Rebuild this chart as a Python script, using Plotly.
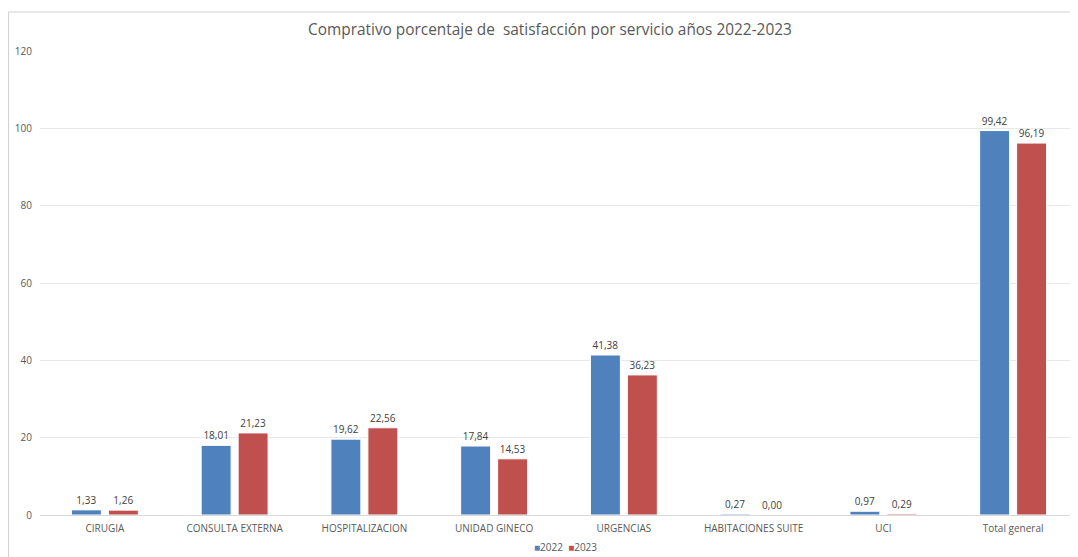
import plotly.graph_objects as go

categories = ["CIRUGIA", "CONSULTA EXTERNA", "HOSPITALIZACION", "UNIDAD GINECO",
              "URGENCIAS", "HABITACIONES SUITE", "UCI", "Total general"]
values_2022 = [1.33, 18.01, 19.62, 17.84, 41.38, 0.27, 0.97, 99.42]
values_2023 = [1.26, 21.23, 22.56, 14.53, 36.23, 0.00, 0.29, 96.19]
y_ticks = [0, 20, 40, 60, 80, 100, 120]
series_names = ["2022", "2023"]
series_colors = ["#4F81BD", "#C0504D"]

def fmt(v):
    return f"{v:.2f}".replace(".", ",")

fig = go.Figure()
for name, vals, col in zip(series_names, [values_2022, values_2023], series_colors):
    fig.add_trace(go.Bar(name=name, x=categories, y=vals,
                         marker=dict(color=col, line=dict(color="white", width=1)),
                         text=[fmt(v) for v in vals], textposition="outside",
                         textfont=dict(size=10, color="#404040"), cliponaxis=False))

legend_text = "&nbsp;&nbsp;".join(
    f"<span style='color:{c}'>■</span>{n}" for n, c in zip(series_names, series_colors))

fig.update_layout(
    width=1070, height=549,
    margin=dict(l=32, r=0, t=43, b=42, autoexpand=False),
    paper_bgcolor="white", plot_bgcolor="white",
    font=dict(family="Open Sans, Calibri, sans-serif", color="#595959"),
    title=dict(text="Comprativo porcentaje de  satisfacción por servicio años 2022-2023",
               x=0.5065, xanchor="center", y=0.96, yanchor="middle",
               font=dict(size=15.4, color="#595959")),
    barmode="group", bargap=0.43, bargroupgap=0.19,
    showlegend=False,
    annotations=[dict(text=legend_text, xref="paper", yref="paper", x=0.5065, y=-0.069,
                      xanchor="center", yanchor="middle", showarrow=False,
                      font=dict(size=10, color="#595959"))],
    xaxis=dict(showgrid=False, showline=True, linecolor="#D9D9D9", linewidth=1,
               ticks="", ticklabelstandoff=4, tickfont=dict(size=10, color="#595959")),
    yaxis=dict(range=[0, 120], tickvals=y_ticks, showgrid=True, gridcolor="#E8E8E8",
               zeroline=False, showline=False, ticks="", ticklabelstandoff=7,
               tickfont=dict(size=10, color="#595959")),
    shapes=[dict(type="line", xref="paper", yref="paper", x0=-0.0303, x1=-0.0303, y0=-0.11, y1=1.084,
                 line=dict(color="#D0D0D0", width=1)),
            dict(type="line", xref="paper", yref="paper", x0=-0.0303, x1=1.0, y0=1.084, y1=1.084,
                 line=dict(color="#D0D0D0", width=1))],
)

fig.write_html("out.html")
